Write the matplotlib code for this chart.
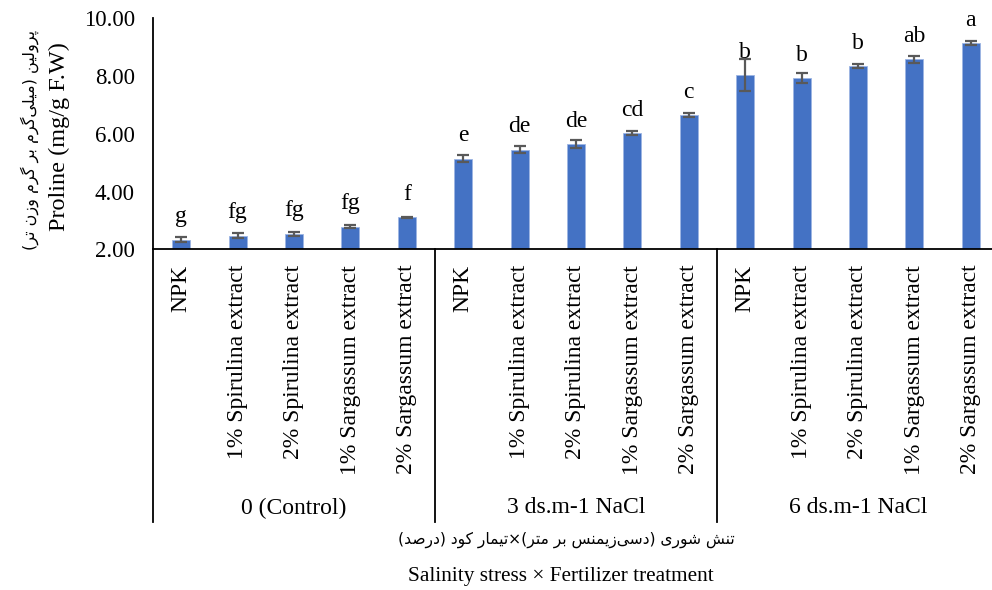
import numpy as np
import matplotlib
matplotlib.use('Agg')
import matplotlib.pyplot as plt

plt.rcParams['font.family'] = ['Liberation Serif', 'DejaVu Sans']

### Data ###

groups = ['0 (Control)', '3 ds.m-1 NaCl', '6 ds.m-1 NaCl']
treatments = ['NPK', '1% Spirulina extract', '2% Spirulina extract',
              '1% Sargassum extract', '2% Sargassum extract']
proline = [2.34, 2.48, 2.55, 2.79, 3.11,
           5.14, 5.45, 5.64, 6.01, 6.64,
           8.03, 7.93, 8.33, 8.57, 9.14]
proline_err = [0.08, 0.09, 0.07, 0.06, 0.03,
               0.13, 0.13, 0.13, 0.07, 0.07,
               0.56, 0.17, 0.07, 0.13, 0.08]
letters = ['g', 'fg', 'fg', 'fg', 'f',
           'e', 'de', 'de', 'cd', 'c',
           'b', 'b', 'b', 'ab', 'a']

ylabel_fa = 'پرولین (میلی\u200cگرم بر گرم وزن تر)'
xlabel_fa = 'تنش شوری (دسی\u200cزیمنس بر متر)×تیمار کود (درصد)'


### Minimal Persian shaping (matplotlib has no bidi/joining) ###

# isolated, final, initial, medial
FORMS = {
    '\u0627': ('\uFE8D', '\uFE8E', None, None),
    '\u0628': ('\uFE8F', '\uFE90', '\uFE91', '\uFE92'),
    '\u067E': ('\uFB56', '\uFB57', '\uFB58', '\uFB59'),
    '\u062A': ('\uFE95', '\uFE96', '\uFE97', '\uFE98'),
    '\u062F': ('\uFEA9', '\uFEAA', None, None),
    '\u0631': ('\uFEAD', '\uFEAE', None, None),
    '\u0632': ('\uFEAF', '\uFEB0', None, None),
    '\u0633': ('\uFEB1', '\uFEB2', '\uFEB3', '\uFEB4'),
    '\u0634': ('\uFEB5', '\uFEB6', '\uFEB7', '\uFEB8'),
    '\u0635': ('\uFEB9', '\uFEBA', '\uFEBB', '\uFEBC'),
    '\u06A9': ('\uFB8E', '\uFB8F', '\uFB90', '\uFB91'),
    '\u06AF': ('\uFB92', '\uFB93', '\uFB94', '\uFB95'),
    '\u0644': ('\uFEDD', '\uFEDE', '\uFEDF', '\uFEE0'),
    '\u0645': ('\uFEE1', '\uFEE2', '\uFEE3', '\uFEE4'),
    '\u0646': ('\uFEE5', '\uFEE6', '\uFEE7', '\uFEE8'),
    '\u0648': ('\uFEED', '\uFEEE', None, None),
    '\u06CC': ('\uFBFC', '\uFBFD', '\uFBFE', '\uFBFF'),
}
MIRROR = {'(': ')', ')': '('}


def shape_fa(text):
    out = []
    for i, ch in enumerate(text):
        if ch not in FORMS:
            out.append(ch)
            continue
        prev = text[i - 1] if i > 0 else ''
        nxt = text[i + 1] if i + 1 < len(text) else ''
        join_prev = prev in FORMS and FORMS[prev][2] is not None
        join_next = FORMS[ch][2] is not None and nxt in FORMS
        iso, fin, ini, med = FORMS[ch]
        if join_prev and join_next:
            out.append(med)
        elif join_prev:
            out.append(fin)
        elif join_next:
            out.append(ini)
        else:
            out.append(iso)
    shaped = ''.join(c for c in out if c != '\u200c')
    return ''.join(MIRROR.get(c, c) for c in reversed(shaped))


### Figure ###

W, H = 992, 590
fig = plt.figure(figsize=(W / 100, H / 100), dpi=100)
ax_left, ax_right, ax_top, ax_bottom = 153, 999, 18, 249.5
ax = fig.add_axes([ax_left / W, 1 - ax_bottom / H,
                   (ax_right - ax_left) / W, (ax_bottom - ax_top) / H])

x = np.arange(len(proline))
ax.bar(x, proline, width=0.32, color='#4472C4', edgecolor='#9DB5E3',
       linewidth=0.6, zorder=2)
ax.errorbar(x, proline, yerr=proline_err, fmt='none', ecolor='#595959',
            elinewidth=1.6, capsize=4.5, capthick=1.6, zorder=3)

for xi, v, lt in zip(x, proline, letters):
    ax.annotate(lt, (xi, v), xytext=(0, 12.5), textcoords='offset points',
                ha='center', va='baseline', fontsize=17, color='black')

ax.set_xlim(-0.5, len(proline) - 0.5)
ax.set_ylim(2, 10)
ax.set_yticks([2, 4, 6, 8, 10])
ax.set_yticklabels(['%.2f' % t for t in [2, 4, 6, 8, 10]], fontsize=16.5)
ax.tick_params(axis='y', length=0, pad=13)

labels = treatments * len(groups)
ax.set_xticks(x)
ax.set_xticklabels(labels, rotation=90, ha='center', va='top', fontsize=17)
ax.tick_params(axis='x', length=0, pad=11)

for s in ['top', 'right']:
    ax.spines[s].set_visible(False)
ax.spines['left'].set_linewidth(1.3)
ax.spines['bottom'].set_linewidth(1.3)

# group separators and group names under the tick labels
trans = ax.get_xaxis_transform()
h = ax_bottom - ax_top
line_end = -(522 - ax_bottom) / h
n = len(treatments)
for k in range(len(groups) + 1):
    xs = k * n - 0.5
    if xs > len(proline) - 0.5:
        break
    ax.plot([xs, xs], [0, line_end], transform=trans, color='black',
            lw=1.3, clip_on=False)
for k, g in enumerate(groups):
    ax.text(k * n + (n - 1) / 2, -(508 - ax_bottom) / h, g, transform=trans,
            ha='center', va='center', fontsize=17)

# axis titles (Persian + English)
fig.text(30 / W, 1 - 140 / H, shape_fa(ylabel_fa), rotation=90,
         ha='center', va='center', fontsize=11.5, family='DejaVu Sans')
fig.text(59 / W, 1 - 137 / H, 'Proline (mg/g F.W)', rotation=90,
         ha='center', va='center', fontsize=17.5)
fig.text(566 / W, 1 - 540 / H, shape_fa(xlabel_fa),
         ha='center', va='center', fontsize=11.2, family='DejaVu Sans')
fig.text(561 / W, 1 - 576 / H, 'Salinity stress × Fertilizer treatment',
         ha='center', va='center', fontsize=15.3)

fig.savefig('out.png', dpi=100)
